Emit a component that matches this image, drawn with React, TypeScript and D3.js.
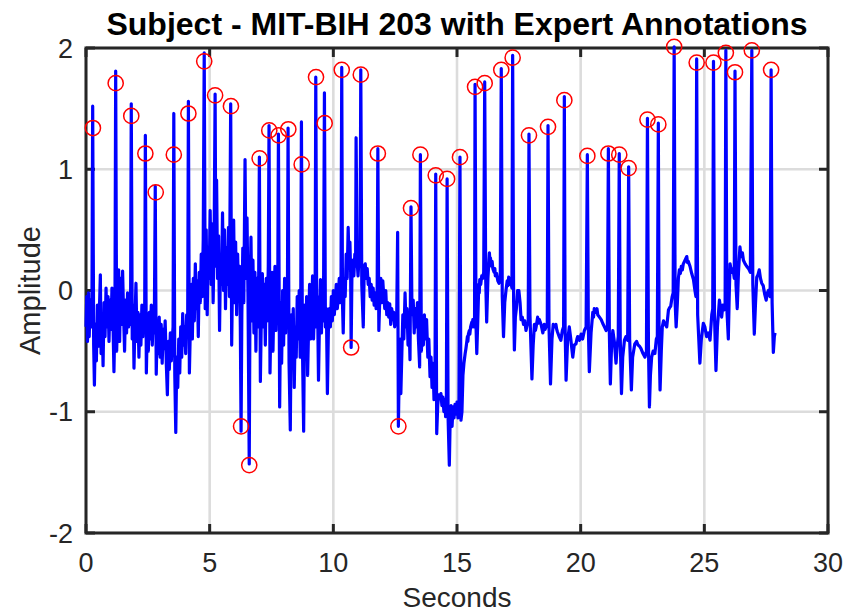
import { useEffect, useRef } from 'react';
import * as d3 from 'd3';

// axis ticks
const xTicks = [0, 5, 10, 15, 20, 25, 30];
const yTicks = [-2, -1, 0, 1, 2];

// expert annotations (seconds / amplitude of the red circles)
const annTimes = [
  0.28, 1.2, 1.83, 2.4, 2.82, 3.55, 4.14, 4.78, 5.22, 5.86, 6.27, 6.6, 7.02, 7.41, 7.79, 8.18, 8.72,
  9.3, 9.65, 10.34, 10.72, 11.11, 11.8, 12.63, 13.14, 13.52, 14.14, 14.6, 15.12, 15.73, 16.12, 16.79,
  17.25, 17.91, 18.68, 19.34, 20.27, 21.12, 21.56, 21.94, 22.7, 23.14, 23.78, 24.69, 25.37, 25.87,
  26.24, 26.92, 27.7,
];
const annAmps = [
  1.34, 1.71, 1.44, 1.13, 0.81, 1.12, 1.46, 1.89, 1.61, 1.52, -1.12, -1.44, 1.09, 1.32, 1.28, 1.33, 1.04,
  1.76, 1.38, 1.82, -0.47, 1.78, 1.13, -1.12, 0.68, 1.12, 0.95, 0.92, 1.1, 1.68, 1.71, 1.82,
  1.92, 1.28, 1.35, 1.57, 1.11, 1.13, 1.12, 1.01, 1.41, 1.37, 2.01, 1.88, 1.88, 1.96,
  1.8, 1.98, 1.82,
];

// ECG trace, [seconds, amplitude] in chunks
const ecgA = [
  [0.0, -0.3], [0.03, -0.05], [0.06, -0.42], [0.1, -0.02], [0.13, -0.38], [0.17, -0.08], [0.21, -0.3], [0.24, -0.12],
  [0.27, 1.52], [0.31, -0.45], [0.34, -0.78], [0.38, -0.28], [0.42, -0.58], [0.46, -0.12], [0.5, -0.46], [0.54, -0.18],
  [0.58, 0.13], [0.61, -0.52], [0.65, -0.2], [0.69, -0.62], [0.73, -0.1], [0.77, -0.38], [0.81, 0.02], [0.85, -0.3],
  [0.89, -0.05], [0.93, -0.42], [0.97, -0.08], [1.01, -0.32], [1.05, 0.02], [1.09, -0.25], [1.13, -0.67], [1.17, -0.22],
  [1.2, 1.81], [1.24, -0.5], [1.28, -0.15], [1.32, 0.17], [1.36, -0.42], [1.4, 0.1], [1.44, -0.28], [1.48, 0.16],
  [1.52, -0.2], [1.56, -0.5], [1.6, -0.08], [1.64, -0.35], [1.68, -0.02], [1.72, -0.3], [1.76, -0.1], [1.8, -0.28],
  [1.83, 1.54], [1.87, -0.4], [1.91, -0.12], [1.94, -0.64], [1.98, -0.25], [2.02, 0.06], [2.06, -0.42], [2.1, -0.18],
  [2.14, -0.55], [2.18, -0.2], [2.22, -0.45], [2.26, -0.12], [2.3, -0.38], [2.34, -0.15], [2.37, -0.3], [2.4, 1.28],
  [2.44, -0.68], [2.48, -0.28], [2.52, -0.5], [2.56, -0.18], [2.6, -0.4], [2.64, -0.12], [2.68, -0.45], [2.72, -0.22],
  [2.76, -0.35], [2.8, 0.86], [2.84, -0.69], [2.88, -0.3], [2.92, -0.52], [2.96, -0.22], [3.0, -0.55], [3.04, -0.28],
  [3.08, -0.6], [3.12, -0.32], [3.16, -0.48], [3.2, -0.25], [3.25, -0.62], [3.29, -0.86], [3.33, -0.42], [3.37, -0.65],
  [3.41, -0.35], [3.45, -0.58], [3.49, -0.4], [3.52, -0.3],
];
const ecgB = [
  [3.55, 1.46], [3.59, -0.7], [3.63, -1.17], [3.67, -0.55], [3.71, -0.8], [3.75, -0.4], [3.79, -0.68], [3.83, -0.3],
  [3.87, -0.55], [3.91, -0.19], [3.95, -0.45], [3.99, -0.3], [4.03, -0.52], [4.07, -0.2], [4.11, -0.35], [4.14, 1.56],
  [4.18, -0.68], [4.22, -0.3], [4.26, 0.05], [4.3, -0.4], [4.34, 0.1], [4.38, -0.25], [4.42, 0.22], [4.46, -0.15],
  [4.5, 0.08], [4.54, -0.38], [4.58, 0.15], [4.62, -0.1], [4.66, 0.3], [4.7, -0.05], [4.74, 0.42], [4.78, 1.96],
  [4.82, -0.15], [4.86, 0.5], [4.9, -0.2], [4.94, 0.35], [4.98, 0.1], [5.02, 0.66], [5.06, 0.05], [5.1, 0.55],
  [5.14, -0.1], [5.18, 0.4], [5.22, 1.62], [5.25, 0.2], [5.28, 0.91], [5.32, 0.1], [5.36, 0.45], [5.4, -0.33],
  [5.44, 0.3], [5.48, 0.05], [5.52, 0.64], [5.56, 0.0], [5.6, 0.5], [5.64, -0.15], [5.68, 0.35], [5.72, 0.05],
  [5.76, 0.52], [5.8, -0.05], [5.85, 1.54], [5.89, -0.45], [5.93, 0.2], [5.97, 0.58], [6.01, -0.1], [6.05, 0.4],
  [6.09, -0.2], [6.13, 0.3], [6.17, -0.05], [6.21, 0.2], [6.24, -0.3], [6.27, -1.16], [6.3, -0.2], [6.34, 0.35],
  [6.38, -0.1], [6.43, 1.08], [6.47, 0.1], [6.51, 0.6], [6.55, -0.05], [6.6, -1.43], [6.63, -0.1], [6.67, 0.44],
  [6.71, -0.25], [6.75, 0.25], [6.79, -0.35], [6.83, 0.15], [6.87, -0.5], [6.91, 0.1], [6.95, -0.3], [6.98, 0.05],
];
const ecgC = [
  [7.01, 1.1], [7.05, -0.75], [7.09, -0.2], [7.13, 0.14], [7.17, -0.3], [7.21, 0.05], [7.25, -0.45], [7.29, 0.1],
  [7.33, -0.25], [7.37, 0.2], [7.4, 1.36], [7.44, -0.68], [7.48, -0.2], [7.52, 0.15], [7.56, -0.5], [7.6, -0.05],
  [7.64, 0.2], [7.68, -0.33], [7.72, 0.05], [7.75, -0.15], [7.78, 1.29], [7.83, -0.96], [7.87, -0.1], [7.91, -0.6],
  [7.95, 0.0], [7.99, -0.45], [8.03, 0.1], [8.07, -0.35], [8.11, -0.05], [8.14, -0.25], [8.17, 1.34], [8.21, -0.6],
  [8.26, -1.15], [8.3, -0.2], [8.34, -0.5], [8.38, -0.15], [8.42, -0.8], [8.46, -0.3], [8.5, -0.55], [8.54, -0.05],
  [8.58, -0.4], [8.62, 0.0], [8.66, -0.55], [8.68, -0.2], [8.71, 1.39], [8.75, -0.45], [8.8, -1.16], [8.84, -0.12],
  [8.88, -0.55], [8.92, -0.05], [8.96, -0.7], [9.0, -0.3], [9.04, 0.05], [9.08, -0.4], [9.12, -0.2], [9.16, 0.12],
  [9.2, -0.4], [9.24, -0.1], [9.26, -0.3], [9.29, 1.76], [9.33, -0.3], [9.36, -0.05], [9.4, -0.74], [9.44, -0.25],
  [9.48, 0.09], [9.52, -0.35], [9.56, 0.05], [9.6, -0.25], [9.64, 1.63], [9.68, -0.3], [9.72, -0.15], [9.76, -0.85],
  [9.8, -0.33], [9.84, -0.15], [9.88, -0.3], [9.92, -0.05], [9.96, -0.25], [10.0, 0.0], [10.04, -0.2], [10.08, -0.08],
  [10.12, 0.05], [10.16, -0.15], [10.2, -0.05], [10.24, 0.1], [10.28, -0.1], [10.31, 0.05],
];
const ecgD = [
  [10.34, 1.84], [10.37, -0.1], [10.4, -0.35], [10.44, 0.1], [10.48, -0.05], [10.52, 0.3], [10.56, 0.1], [10.6, 0.52],
  [10.64, 0.2], [10.67, 0.4], [10.7, 0.15], [10.72, -0.47], [10.75, 0.1], [10.79, 0.25], [10.83, 0.12], [10.87, 0.3],
  [10.9, 0.2], [10.92, 1.26], [10.96, 0.25], [11.0, 0.12], [11.04, 0.28], [11.08, 0.2], [11.11, 1.82], [11.15, 0.05],
  [11.21, -0.3], [11.25, 0.2], [11.29, 0.22], [11.33, 0.1], [11.37, 0.18], [11.41, 0.05], [11.45, 0.1], [11.49, -0.05],
  [11.53, 0.05], [11.57, -0.08], [11.61, 0.02], [11.65, -0.12], [11.69, -0.02], [11.73, -0.15], [11.77, -0.08],
  [11.8, 1.17], [11.84, -0.33], [11.88, -0.05], [11.92, 0.1], [11.96, -0.1], [12.0, 0.08], [12.04, -0.05], [12.08, -0.15],
  [12.12, 0.0], [12.16, -0.2], [12.2, -0.1], [12.24, -0.22], [12.28, -0.11], [12.32, -0.28], [12.36, -0.15], [12.4, -0.24],
  [12.44, -0.18], [12.48, -0.3], [12.52, -0.2], [12.56, -0.25], [12.6, 0.48], [12.63, -1.12], [12.66, -0.7], [12.7, -0.4],
  [12.73, -0.85], [12.77, -0.52], [12.81, -0.2], [12.85, -0.4], [12.9, -0.02], [12.94, -0.3], [12.98, -0.15], [13.02, -0.45],
  [13.06, -0.25], [13.1, -0.57], [13.14, 0.69], [13.18, -0.2], [13.23, -0.08], [13.27, -0.35], [13.31, -0.15], [13.36, -0.3],
  [13.4, -0.1], [13.44, -0.4], [13.49, -0.63], [13.52, 1.12], [13.56, -0.5],
];
const ecgE = [
  [13.6, -0.3], [13.64, -0.45], [13.68, -0.2], [13.73, -0.4], [13.77, -0.24], [13.82, -0.55], [13.86, -0.4], [13.91, -0.71],
  [13.95, -0.55], [13.99, -0.8], [14.03, -0.6], [14.07, -0.9], [14.11, -0.75], [14.14, 0.96], [14.18, -1.18], [14.22, -0.95],
  [14.26, -0.86], [14.31, -0.88], [14.35, -0.85], [14.39, -0.95], [14.43, -0.88], [14.47, -1.0], [14.51, -0.9], [14.54, -1.04],
  [14.57, -0.95], [14.6, 0.92], [14.64, -1.05], [14.69, -1.44], [14.72, -1.1], [14.76, -0.95], [14.8, -1.12], [14.84, -0.96],
  [14.88, -1.05], [14.92, -0.94], [14.96, -1.02], [15.0, -0.92], [15.04, -1.05], [15.08, -0.93], [15.12, 1.1], [15.16, -1.07],
  [15.2, -1.0], [15.24, -0.7], [15.28, -0.6], [15.33, -0.52], [15.36, -0.48], [15.38, -0.45], [15.42, -0.38], [15.44, -0.42],
  [15.46, -0.36], [15.5, -0.33], [15.52, -0.36], [15.55, -0.3], [15.6, -0.26], [15.62, -0.3], [15.64, -0.24], [15.68, -0.3],
  [15.71, -0.22], [15.73, 1.7], [15.77, -0.3], [15.8, -0.52], [15.84, -0.25], [15.88, 0.05], [15.9, -0.02], [15.92, 0.09],
  [15.96, 0.05], [16.0, 0.12], [16.04, 0.1], [16.08, 0.15], [16.12, 1.72], [16.16, 0.1], [16.2, -0.26], [16.25, 0.1],
  [16.31, 0.31], [16.33, 0.24], [16.35, 0.27], [16.4, 0.2], [16.42, 0.24], [16.45, 0.18], [16.5, 0.15], [16.53, 0.18],
  [16.55, 0.12], [16.6, 0.14], [16.65, 0.08], [16.7, 0.06], [16.75, 0.1], [16.79, 1.83], [16.83, -0.05], [16.88, -0.38],
  [16.93, -0.1], [16.98, 0.0], [17.03, 0.08], [17.06, 0.04], [17.09, 0.11], [17.14, 0.05], [17.19, 0.06], [17.22, 0.02],
  [17.25, 1.94], [17.29, -0.1], [17.32, -0.49],
];
const ecgF = [
  [17.36, -0.22], [17.4, -0.15], [17.45, 0.0], [17.5, 0.0], [17.55, -0.1], [17.59, -0.24], [17.64, -0.22], [17.69, -0.28],
  [17.74, -0.25], [17.79, -0.33], [17.84, -0.28], [17.88, -0.26], [17.91, 1.29], [17.95, -0.2], [18.03, -0.73], [18.08, -0.45],
  [18.13, -0.28], [18.17, -0.33], [18.2, -0.3], [18.26, -0.22], [18.3, -0.27], [18.33, -0.24], [18.4, -0.28], [18.47, -0.35],
  [18.53, -0.28], [18.56, -0.32], [18.6, -0.3], [18.65, -0.27], [18.68, 1.36], [18.72, -0.3], [18.78, -0.77], [18.84, -0.4],
  [18.89, -0.28], [18.94, -0.3], [19.0, -0.28], [19.03, -0.32], [19.06, -0.34], [19.13, -0.38], [19.2, -0.41], [19.26, -0.33],
  [19.31, -0.3], [19.34, 1.6], [19.37, -0.3], [19.41, -0.74], [19.47, -0.42], [19.54, -0.3], [19.6, -0.4], [19.68, -0.55],
  [19.74, -0.45], [19.81, -0.44], [19.85, -0.4], [19.88, -0.38], [19.95, -0.41], [20.02, -0.36], [20.08, -0.4], [20.15, -0.33],
  [20.22, -0.3], [20.27, 1.12], [20.31, -0.3], [20.35, -0.67], [20.42, -0.35], [20.49, -0.18], [20.52, -0.22], [20.55, -0.15],
  [20.62, -0.18], [20.66, -0.15], [20.69, -0.2], [20.76, -0.22], [20.83, -0.24], [20.89, -0.27], [20.96, -0.3], [21.03, -0.33],
  [21.08, -0.3], [21.12, 1.17], [21.16, -0.35], [21.2, -0.77], [21.25, -0.45], [21.3, -0.33], [21.36, -0.42], [21.43, -0.6],
  [21.48, -0.45], [21.52, -0.38], [21.56, 1.13], [21.6, -0.4], [21.65, -0.85], [21.7, -0.55], [21.77, -0.41], [21.83, -0.38],
  [21.9, -0.41], [21.94, 1.02], [21.98, -0.4], [22.05, -0.82], [22.1, -0.55], [22.19, -0.44], [22.26, -0.42], [22.32, -0.45],
  [22.38, -0.46],
];
const ecgG = [
  [22.44, -0.48], [22.52, -0.52], [22.6, -0.55], [22.66, -0.5], [22.7, 1.42], [22.74, -0.45], [22.78, -0.96], [22.82, -0.7],
  [22.87, -0.55], [22.93, -0.5], [23.0, -0.52], [23.06, -0.4], [23.1, -0.38], [23.14, 1.38], [23.17, -0.4], [23.21, -0.82],
  [23.26, -0.5], [23.3, -0.3], [23.35, -0.25], [23.42, -0.28], [23.48, -0.3], [23.55, -0.16], [23.6, -0.14], [23.64, -0.13],
  [23.7, -0.05], [23.74, -0.02], [23.78, 2.01], [23.82, -0.1], [23.86, -0.3], [23.91, -0.1], [23.95, 0.1], [23.99, 0.17],
  [24.03, 0.14], [24.07, 0.2], [24.11, 0.17], [24.15, 0.22], [24.22, 0.25], [24.29, 0.28], [24.32, 0.23], [24.35, 0.24],
  [24.42, 0.2], [24.49, 0.14], [24.56, 0.09], [24.62, 0.0], [24.66, -0.05], [24.69, 1.91], [24.73, -0.2], [24.82, -0.6],
  [24.88, -0.4], [24.96, -0.27], [25.02, -0.3], [25.09, -0.38], [25.16, -0.35], [25.23, -0.41], [25.3, -0.2], [25.34, -0.15],
  [25.37, 1.89], [25.41, -0.2], [25.47, -0.66], [25.53, -0.3], [25.61, -0.08], [25.66, -0.15], [25.7, -0.22], [25.75, -0.12],
  [25.8, -0.16], [25.84, -0.14], [25.87, 1.98], [25.91, -0.15], [25.97, -0.4], [26.0, -0.1], [26.04, 0.22], [26.1, 0.15],
  [26.16, 0.18], [26.21, 0.1], [26.24, 1.81], [26.28, 0.05], [26.33, -0.15], [26.38, 0.15], [26.44, 0.36], [26.47, 0.3],
  [26.5, 0.28], [26.54, 0.31], [26.58, 0.25], [26.65, 0.22], [26.71, 0.2], [26.79, 0.18], [26.86, 0.15], [26.92, 1.98],
  [26.96, 0.05], [27.02, -0.36], [27.07, -0.1], [27.12, 0.11], [27.17, 0.13], [27.22, 0.17], [27.27, 0.1], [27.32, 0.06],
  [27.38, 0.04], [27.44, -0.03], [27.5, -0.08], [27.55, -0.02], [27.59, 0.0], [27.66, -0.05], [27.7, 1.82], [27.74, -0.1],
  [27.79, -0.51], [27.83, -0.38], [27.86, -0.35],
];

const FONT = '"Liberation Sans", Arial, Helvetica, sans-serif';

export default function App() {
  const ref = useRef<SVGSVGElement | null>(null);

  useEffect(() => {
    if (!ref.current) return;
    const svg = d3.select(ref.current);
    svg.selectAll('*').remove();

    const left = 86, right = 828, top = 48, bottom = 533;
    const x = d3.scaleLinear().domain([0, 30]).range([left, right]);
    const y = d3.scaleLinear().domain([-2, 2]).range([bottom, top]);

    svg.append('rect').attr('width', 847).attr('height', 615).attr('fill', '#fff');

    // grid
    const grid = svg.append('g').attr('stroke', '#dcdcdc').attr('stroke-width', 2.6);
    grid.selectAll('.gx').data(xTicks).enter().append('line')
      .attr('x1', d => x(d)).attr('x2', d => x(d)).attr('y1', top).attr('y2', bottom);
    grid.selectAll('.gy').data(yTicks).enter().append('line')
      .attr('x1', left).attr('x2', right).attr('y1', d => y(d)).attr('y2', d => y(d));

    // box + inward ticks on all sides
    const axisColor = '#262626';
    const tl = 9;
    const ax = svg.append('g').attr('stroke', axisColor).attr('stroke-width', 3).attr('fill', 'none');
    ax.append('rect').attr('x', left).attr('y', top).attr('width', right - left).attr('height', bottom - top);
    xTicks.forEach(t => {
      ax.append('line').attr('x1', x(t)).attr('x2', x(t)).attr('y1', bottom).attr('y2', bottom - tl);
      ax.append('line').attr('x1', x(t)).attr('x2', x(t)).attr('y1', top).attr('y2', top + tl);
    });
    yTicks.forEach(t => {
      ax.append('line').attr('x1', left).attr('x2', left + tl).attr('y1', y(t)).attr('y2', y(t));
      ax.append('line').attr('x1', right).attr('x2', right - tl).attr('y1', y(t)).attr('y2', y(t));
    });

    // signal
    const ecg = [...ecgA, ...ecgB, ...ecgC, ...ecgD, ...ecgE, ...ecgF, ...ecgG];
    const line = d3.line<number[]>().x(d => x(d[0])).y(d => y(d[1]));
    svg.append('path')
      .datum(ecg)
      .attr('d', line)
      .attr('fill', 'none')
      .attr('stroke', '#0000ff')
      .attr('stroke-width', 3.2)
      .attr('stroke-linejoin', 'round');

    // annotations
    svg.append('g').selectAll('circle')
      .data(annTimes.map((t, i) => [t, annAmps[i]]))
      .enter()
      .append('circle')
      .attr('cx', d => x(d[0]))
      .attr('cy', d => y(d[1]))
      .attr('r', 7.6)
      .attr('fill', 'none')
      .attr('stroke', '#ff0000')
      .attr('stroke-width', 1.5);

    // tick labels
    const lbl = svg.append('g').attr('font-family', FONT).attr('fill', axisColor);
    lbl.selectAll('.xl').data(xTicks).enter().append('text')
      .attr('x', d => x(d)).attr('y', 572)
      .attr('text-anchor', 'middle')
      .style('font-size', '27px')
      .text(d => d);
    lbl.selectAll('.yl').data(yTicks).enter().append('text')
      .attr('x', 73).attr('y', d => y(d) + 9.5)
      .attr('text-anchor', 'end')
      .style('font-size', '27px')
      .text(d => d);

    // axis titles
    lbl.append('text')
      .attr('x', (left + right) / 2).attr('y', 607)
      .attr('text-anchor', 'middle')
      .style('font-size', '28px')
      .text('Seconds');
    lbl.append('text')
      .attr('transform', `translate(40,${(top + bottom) / 2}) rotate(-90)`)
      .attr('text-anchor', 'middle')
      .style('font-size', '29px')
      .text('Amplitude');

    svg.append('text')
      .attr('x', (left + right) / 2).attr('y', 35)
      .attr('text-anchor', 'middle')
      .attr('font-family', FONT)
      .attr('font-weight', 'bold')
      .style('font-size', '32px')
      .attr('fill', '#000')
      .text('Subject - MIT-BIH 203 with Expert Annotations');
  }, []);

  return (
    <svg ref={ref} width={847} height={615} style={{ position: 'absolute', left: 0, top: 0 }} />
  );
}
